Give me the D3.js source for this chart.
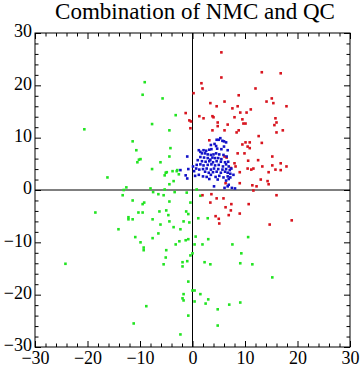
<!DOCTYPE html>
<html>
<head>
<meta charset="utf-8">
<script src="https://cdn.jsdelivr.net/npm/d3@7"></script>
<style>
  body { margin: 0; background: #fff; }
  svg { display: block; }
</style>
</head>
<body>
<svg id="chart" width="360" height="371"></svg>
<script>
// chart values
const title = "Combination of NMC and QC";
const xTicks = [-30, -20, -10, 0, 10, 20, 30];
const yTicks = [-30, -20, -10, 0, 10, 20, 30];

const redPts = [
  [5.5,26.3],[5.5,21.5],[13.2,22.5],[16.8,22.3],[1.7,20.4],[1.9,19.4],[0.2,18.5],[12.0,19.4],
  [8.8,18.1],[6.1,16.9],[3.4,16.6],[4.6,16.0],[8.6,16.0],[7.6,15.6],[14.1,16.9],[15.1,17.5],
  [15.4,16.6],[17.9,16.0],[11.1,15.4],[9.1,14.8],[10.3,14.8],[3.8,14.1],[4.0,13.9],[1.3,14.1],
  [2.1,13.7],[8.0,13.9],[9.5,13.5],[4.8,12.9],[9.7,12.7],[10.1,12.7],[15.8,13.7],[16.0,12.9],
  [15.6,12.4],[4.8,12.2],[6.7,12.5],[-1.3,14.7],[-0.6,13.3],[-0.3,13.1],[-0.4,11.8],
  [3.8,11.4],[6.1,11.4],[8.8,11.4],[8.4,11.0],[16.0,11.0],[17.2,11.4],[12.6,10.3],[10.1,9.1],
  [10.9,9.1],[9.5,8.7],[10.5,8.3],[10.9,8.0],[13.2,9.0],[3.2,9.5],[8.6,7.0],[9.9,7.0],
  [15.2,6.4],[6.1,6.4],[6.5,6.2],[10.6,5.6],[12.5,5.7],[8.0,5.1],[16.8,5.1],[15.2,4.7],
  [13.3,4.5],[17.9,4.5],[7.3,4.2],[10.5,4.1],[11.2,3.9],[11.6,4.1],[15.8,3.9],[16.8,3.8],
  [14.5,3.4],[9.0,3.4],[13.0,2.0],[14.3,1.7],[14.5,1.1],[9.0,1.3],[6.3,1.3],[11.4,0.9],
  [12.2,0.7],[11.6,-0.1],[8.2,4.5],
  [1.9,-1.0],[3.6,-0.8],[4.6,-1.6],[5.9,-1.6],[3.4,-2.4],[7.4,-2.7],[10.7,-2.7],[6.3,-3.3],
  [7.3,-3.9],[9.0,-4.5],[4.4,-5.0],[5.0,-5.5],[5.1,-6.4],[6.9,-4.8],[16.0,-1.0],[18.9,-5.8],
  [14.7,-6.6]
];

const greenPts = [
  [-9.1,20.6],[-9.5,18.2],[-5.7,17.5],[-20.6,11.6],[-3.2,14.3],[-7.7,12.6],[-4.4,11.4],[-11.4,9.3],
  [-10.7,7.6],[-4.2,8.0],[-4.4,6.4],[-9.9,5.9],[-10.2,5.8],[-10.5,5.3],[-6.1,5.3],[-7.7,4.0],
  [-4.9,3.4],[-5.1,3.3],[-3.8,3.6],[-3.0,3.6],[-2.9,3.8],[-5.3,2.8],[-2.6,3.0],[-3.6,1.7],
  [-16.2,2.4],[-4.4,1.1],[-12.6,0.5],[-13.1,0.0],[-8.0,0.3],[-5.3,0.1],[-13.3,-1.0],[-7.5,-0.4],
  [-6.5,-0.8],[-5.5,-1.0],[-3.4,-0.4],[-1.1,-0.5],[0.8,0.1],[1.5,-1.1],[-11.4,-2.0],[-9.2,-2.4],
  [-9.5,-2.7],[-4.4,-2.2],[-0.4,-2.4],[-18.5,-4.3],[-10.3,-4.3],[-9.5,-4.3],[-6.3,-4.1],[-5.0,-3.9],
  [-4.6,-4.8],[-1.2,-4.1],[-0.8,-4.6],[-12.2,-5.2],[-12.2,-5.6],[-11.4,-5.6],[-7.6,-5.6],[-4.4,-6.0],
  [-1.7,-6.0],[-0.6,-6.2],[1.1,-5.4],[2.9,-5.4],[-6.1,-6.6],[-3.6,-7.1],[-2.3,-7.5],[-14.1,-7.5],
  [-6.5,-8.3],[-10.9,-9.0],[-7.6,-9.2],[0.6,-8.9],[-9.9,-10.0],[-1.3,-9.6],[-0.8,-9.4],[-2.5,-9.8],
  [-3.2,-10.4],[3.0,-9.4],[0.4,-10.4],[1.9,-10.4],[7.6,-10.4],[10.6,-9.0],[-9.3,-11.0],[-9.3,-11.5],
  [-5.0,-11.5],[0.0,-12.1],[-0.4,-12.5],[9.3,-12.1],[-5.1,-12.9],[-1.0,-13.6],[-1.9,-13.8],[-1.9,-14.6],
  [-5.5,-14.2],[-24.2,-14.1],[2.3,-13.8],[3.4,-14.2],[9.1,-14.0],[11.4,-14.2],[15.2,-16.7],[-0.8,-17.5],
  [0.0,-19.2],[0.4,-19.2],[-1.7,-19.9],[1.5,-19.9],[-1.9,-20.7],[-1.7,-21.1],[0.4,-21.3],[3.0,-20.9],
  [2.5,-21.7],[9.1,-21.5],[7.0,-21.9],[-8.8,-22.2],[4.8,-22.8],[-0.8,-24.0],[-11.2,-25.5],[4.8,-25.9],
  [-2.3,-27.6]
];

const bluePts = [
  [5.3,9.9],[5.0,9.6],[5.7,9.4],[4.6,9.6],[6.4,9.1],[6.0,9.3],[4.2,8.8],[3.5,8.6],[4.5,8.4],
  [6.0,8.3],[5.5,7.8],[4.7,7.9],[3.6,7.8],[3.2,7.7],[2.1,7.6],[1.2,7.6],[1.5,7.3],[2.6,7.5],
  [6.7,7.6],[1.8,7.0],[2.4,7.0],[2.9,6.8],[3.5,6.7],[4.0,6.8],[4.5,7.0],[5.1,6.8],[5.9,6.7],
  [6.5,6.4],[1.5,6.3],[2.2,6.2],[2.9,6.1],[3.8,6.2],[4.3,6.1],[4.9,6.1],[5.5,5.9],[3.4,5.8],
  [1.0,5.7],[1.8,5.5],[2.5,5.4],[3.2,5.5],[3.9,5.3],[4.6,5.5],[5.4,5.4],[6.2,5.3],[6.8,5.4],
  [0.1,4.5],[0.8,4.8],[1.5,4.9],[2.1,4.7],[2.9,4.8],[3.6,4.9],[4.3,4.7],[5.0,4.8],[5.8,4.5],
  [6.4,4.9],[6.9,4.5],[0.7,4.1],[1.3,3.9],[2.0,4.0],[2.7,4.1],[3.5,3.9],[4.1,4.1],[4.9,4.0],
  [5.7,3.9],[6.4,4.0],[7.1,3.8],[7.4,4.1],[2.4,3.5],[3.1,3.3],[3.9,3.4],[4.6,3.5],[5.4,3.3],
  [6.2,3.5],[6.7,3.3],[7.2,3.1],[0.5,2.7],[1.2,2.9],[2.0,2.6],[2.7,2.5],[3.5,2.9],[4.4,2.5],
  [5.1,2.7],[5.9,2.4],[6.7,2.6],[7.2,2.4],[7.8,2.9],[3.2,2.1],[4.8,2.0],[6.4,1.8],[6.9,2.1],
  [4.1,0.7],[6.1,0.4],[6.9,1.0],[7.5,0.4],[8.1,0.3],[6.7,0.7],
  [-1.0,6.4],[-0.8,4.0],[-2.3,3.8],[-1.3,2.8],[-1.0,2.2],[0.3,3.6]
];

const series = [
  { pts: greenPts, color: "#22e422" },
  { pts: redPts, color: "#d8141e" },
  { pts: bluePts, color: "#1212c8" }
];

const W = 360, H = 371;
const m = { left: 35, right: 10, top: 33, bottom: 24 };
const svg = d3.select("#chart");
const font = "'Liberation Serif', 'Times New Roman', serif";

const x = d3.scaleLinear().domain([-30, 30]).range([m.left, W - m.right]);
const y = d3.scaleLinear().domain([-30, 30]).range([H - m.bottom, m.top]);

svg.append("text")
    .attr("x", 195)
    .attr("y", 19)
    .attr("text-anchor", "middle")
    .attr("font-family", font)
    .attr("font-size", 23)
    .attr("fill", "#000")
    .text(title);

const minorX = d3.range(-30, 31, 2).filter(v => v % 10 !== 0);
const minorY = d3.range(-30, 31, 2).filter(v => v % 10 !== 0);
const majLen = 6, minLen = 3.5;

function frameAxis(axisFn, scale, pos, transform, labels) {
    const g1 = svg.append("g").attr("transform", transform)
        .call(axisFn(scale).tickValues(pos === "x" ? xTicks : yTicks)
            .tickSizeInner(-majLen).tickSizeOuter(0).tickPadding(labels ? 6 : 0)
            .tickFormat(labels ? d3.format("d") : ""));
    const g2 = svg.append("g").attr("transform", transform)
        .call(axisFn(scale).tickValues(pos === "x" ? minorX : minorY)
            .tickSizeInner(-minLen).tickSizeOuter(0).tickFormat(""));
    [g1, g2].forEach(g => {
        g.select(".domain").remove();
        g.selectAll("line").attr("stroke", "#000").attr("stroke-width", 1);
    });
    g1.selectAll("text")
        .attr("font-family", font)
        .attr("font-size", 18)
        .attr("fill", "#000");
    return g1;
}

frameAxis(d3.axisBottom, x, "x", `translate(0,${y(-30)})`, true)
    .selectAll("text").attr("dy", "0.6em");
frameAxis(d3.axisTop, x, "x", `translate(0,${y(30)})`, false);
frameAxis(d3.axisLeft, y, "y", `translate(${x(-30)},0)`, true)
    .selectAll("text").attr("dx", 3).attr("dy", "0.22em");
frameAxis(d3.axisRight, y, "y", `translate(${x(30)},0)`, false);

// frame
svg.append("rect")
    .attr("x", x(-30)).attr("y", y(30))
    .attr("width", x(30) - x(-30)).attr("height", y(-30) - y(30))
    .attr("fill", "none").attr("stroke", "#000").attr("stroke-width", 1);

// axes through origin
svg.append("line")
    .attr("x1", x(-30)).attr("x2", x(30)).attr("y1", y(0)).attr("y2", y(0))
    .attr("stroke", "#000").attr("stroke-width", 1);
svg.append("line")
    .attr("x1", x(0)).attr("x2", x(0)).attr("y1", y(-30)).attr("y2", y(30))
    .attr("stroke", "#000").attr("stroke-width", 1);

const s = 2.6;
series.forEach(ser => {
    svg.append("g")
        .selectAll("rect")
        .data(ser.pts)
        .join("rect")
        .attr("x", d => x(d[0]) - s / 2)
        .attr("y", d => y(d[1]) - s / 2)
        .attr("width", s)
        .attr("height", s)
        .attr("fill", ser.color);
});
</script>
</body>
</html>
